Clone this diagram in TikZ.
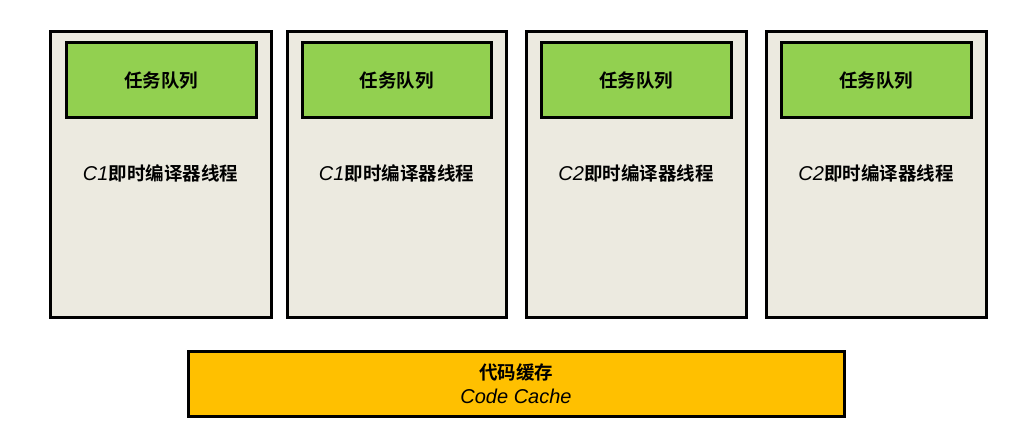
\documentclass[tikz,border=0pt]{standalone}
\usepackage{fontspec}
\setmainfont{Liberation Sans}
\newfontfamily\cjk{Noto Sans CJK SC}
\newfontfamily\cjkb{Noto Sans CJK SC Bold}
\definecolor{panel}{HTML}{ECEAE0}
\definecolor{queue}{HTML}{92D050}
\definecolor{cache}{HTML}{FFC000}
\tikzset{
  thread/.style={draw=black, line width=3pt, fill=panel},
  queuebox/.style={draw=black, line width=3pt, fill=queue},
  cachebox/.style={draw=black, line width=3pt, fill=cache},
  lbl/.style={font=\fontsize{18.5}{21}\selectfont\cjkb, text=black},
}
\begin{document}
\begin{tikzpicture}[x=1pt,y=-1pt]
\useasboundingbox (0,0) rectangle (1027,435);
\foreach \i/\xa/\xb/\qa/\qb/\c in {1/50/271/66/256/1, 2/287/506/302/491/1, 3/526/746/541/731/2, 4/766/986/781/971/2}{
  \path[thread] (\xa,32) rectangle (\xb,317);
  \node[queuebox, minimum width={\qb-\qa}, minimum height=75, inner sep=0pt] (q\i) at ({(\qa+\qb)/2},80.5) {};
  \node[lbl] (qt\i) at (q\i) {任务队列};
  \node[lbl] (t\i) at ({(\xa+\xb)/2},173) {{\fontsize{20}{21}\selectfont\normalfont\itshape C\c}即时编译器线程};
}
\node[cachebox, minimum width=656, minimum height=65, inner sep=0pt] (cache) at (516,383.5) {};
\node[lbl] (c1) at (516,372) {代码缓存};
\node[font=\fontsize{20}{22}\selectfont\itshape] (c2) at (516,396) {Code Cache};
\end{tikzpicture}
\end{document}
